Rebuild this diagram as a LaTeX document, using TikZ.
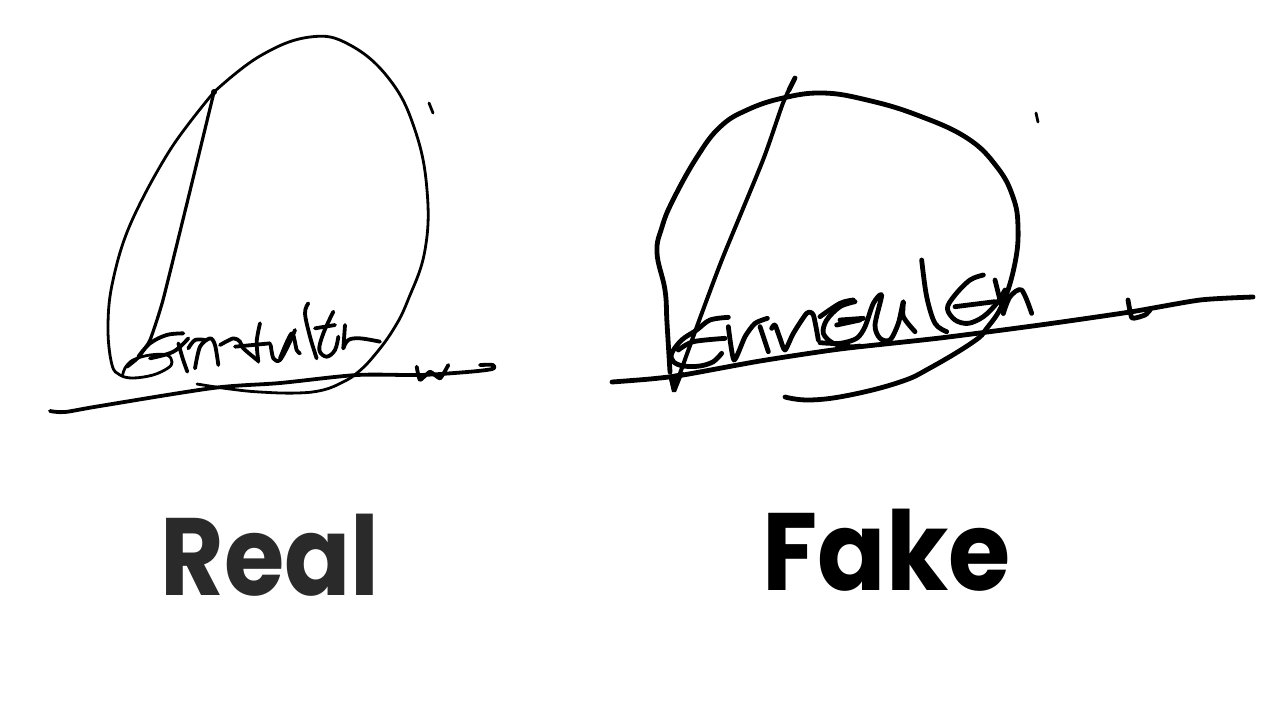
\documentclass[tikz,border=0pt]{standalone}
\usepackage{fontspec}
\setmainfont{Poppins}
\tikzset{
 ink/.style={line width=1.4pt,line cap=round,line join=round,black},
 inkl/.style={line width=1.9pt,line cap=round,line join=round,black},
 inkb/.style={line width=2.4pt,line cap=round,line join=round,black},
 lab/.style={font=\fontsize{55}{60}\selectfont\bfseries,inner sep=0pt,anchor=base west},
}
\begin{document}
\begin{tikzpicture}[x=0.5pt,y=-0.5pt]
\useasboundingbox (0,0) rectangle (1280,720);
\fill[white] (0,0) rectangle (1280,720);
% Real oval
\draw[ink] plot[smooth,tension=0.7] coordinates {(214,92)(260,56)(310,37)(350,45)(390,80)(415,130)(427,190)(425,250)(408,300)(393,330)(373,357)(357,373)(343,382)(323,390)(297,393)(260,392)(230,389)(197,384)};
\draw[ink] plot[smooth,tension=0.6] coordinates {(214,92)(170,150)(130,225)(112,285)(108,330)(112,365)(120,375)(133,378)(153,375)(168,368)(172,362)(167,355)(150,355)(133,360)(125,368)(123,374)};
\draw[ink,line width=1.6pt] plot[smooth,tension=0.3] coordinates {(214,92)(189,195)(163,300)(150,340)(138,358)(127,367)};
\fill (214,92) circle (3);
\begin{scope}[shift={(110,305)},x=0.16667pt,y=-0.16667pt]
\draw[inkl] plot[smooth,tension=0.6] coordinates {(85,155)(120,115)(170,90)(220,85)};
\draw[inkl] plot[smooth,tension=0.6] coordinates {(120,160)(190,140)(235,100)};
\draw[inkl] plot[smooth,tension=0.5] coordinates {(205,115)(218,160)(232,200)};
\draw[inkl] plot[smooth,tension=0.6] coordinates {(235,130)(255,105)(285,105)};
\draw[inkl] plot[smooth,tension=0.5] coordinates {(255,190)(270,125)(300,100)(315,120)(325,180)};
\draw[inkl] plot[smooth,tension=0.5] coordinates {(330,120)(370,100)(390,110)(400,130)(445,168)};
\draw[inkl] plot[smooth,tension=0.5] coordinates {(450,55)(440,110)(445,170)};
\draw[inkl] (375,125) -- (480,115);
\draw[inkl] plot[smooth,tension=0.5] coordinates {(482,120)(490,160)(510,165)(540,110)(555,75)};
\end{scope}
\begin{scope}[shift={(280,300)},x=0.16667pt,y=-0.16667pt]
\draw[inkl] plot[smooth,tension=0.5] coordinates {(0,175)(35,100)(50,150)(60,160)};
\draw[inkl] plot[smooth,tension=0.6] coordinates {(85,10)(75,40)(90,110)(110,175)};
\draw[inkl] plot[smooth,tension=0.6] coordinates {(160,35)(130,100)(118,150)(140,170)(165,150)(175,110)};
\draw[inkl] (105,85) -- (165,75);
\draw[inkl] (195,75) -- (190,145);
\draw[inkl] plot[smooth,tension=0.6] coordinates {(190,145)(205,120)(240,115)(300,125)};
\draw[inkl] plot[smooth,tension=0.3] coordinates {(410,200)(420,240)(450,215)(480,235)(505,195)};
\end{scope}
\draw[inkl] plot[smooth,tension=0.5] coordinates {(50,411)(65,412)(100,406)(213,388)(280,383)(357,375)(420,375)(467,372)(492,369)(493,365)(480,365)};
\draw[ink] (429,103) -- (433,113);
% Fake
\draw[inkb] plot[smooth,tension=0.7] coordinates {(670,372)(667,323)(665,290)(657,253)(662,227)(673,200)(697,157)(720,127)(747,110)(783,98)(823,93)(867,100)(917,115)(967,138)(997,167)(1013,197)(1018,227)(1015,263)(1003,303)(987,328)(973,342)(930,368)(900,382)(850,395)(810,400)(785,397)};
\draw[line width=2pt,line cap=round,line join=round] plot[smooth,tension=0.4] coordinates {(795,78)(783,103)(763,160)(723,257)(703,310)(692,340)(683,365)(674,390)};
\fill (668,375) -- (684,372) -- (676,392) -- (672,392) -- cycle;
\draw[line width=2.4pt,line cap=round] (795,78) -- (789,90);
\draw[inkb] plot[smooth,tension=0.4] coordinates {(612,382)(650,379)(683,375)(760,361)(840,349)(940,338)(1040,325)(1130,312)(1200,300)(1253,297)};
\draw[inkb] plot[smooth,tension=0.3] coordinates {(1128,300)(1132,318)(1145,315)(1150,310)};
\begin{scope}[shift={(660,290)},x=0.16667pt,y=-0.16667pt]
\draw[inkb] plot[smooth,tension=0.55] coordinates {(205,82)(150,90)(110,120)(65,150)(35,190)(40,215)(70,228)(120,228)(160,215)(185,190)};
\draw[inkb] plot[smooth,tension=0.5] coordinates {(55,180)(100,155)(195,145)};
\draw[inkb] plot[smooth,tension=0.4] coordinates {(205,110)(222,210)(255,140)(285,100)(322,85)};
\draw[inkb] plot[smooth,tension=0.4] coordinates {(300,110)(310,140)(325,185)};
\draw[inkb] plot[smooth,tension=0.4] coordinates {(335,115)(345,105)(360,145)(375,180)(400,130)(440,70)(460,75)(475,150)};
\draw[inkb] plot[smooth,tension=0.55] coordinates {(585,35)(540,50)(500,90)(490,130)(520,160)(570,170)(600,168)};
\draw[inkb] (530,105) -- (600,90);
\end{scope}
\begin{scope}[shift={(840,260)},x=0.16667pt,y=-0.16667pt]
\draw[inkb] plot[smooth,tension=0.55] coordinates {(-60,170)(0,130)(40,120)};
\draw[inkb] (0,180) -- (70,175);
\draw[inkb] plot[smooth,tension=0.5] coordinates {(-60,248)(0,250)(50,235)(75,200)(100,130)(125,105)(105,195)(120,235)(150,240)(175,190)(190,125)(190,170)(225,215)};
\draw[inkb] plot[smooth,tension=0.55] coordinates {(245,0)(260,110)(285,190)(320,215)};
\draw[inkb] plot[smooth,tension=0.55] coordinates {(430,45)(390,60)(345,105)(322,145)(345,180)(385,190)(430,170)(470,130)(495,90)};
\draw[inkb] (345,140) -- (465,125);
\draw[inkb] plot[smooth,tension=0.4] coordinates {(465,60)(490,160)};
\draw[inkb] plot[smooth,tension=0.5] coordinates {(490,160)(510,110)(545,90)(575,160)};
\end{scope}
\draw[ink] (1036,113) -- (1038,122);
\node[lab,text={rgb,255:red,42;green,42;blue,42},xscale=0.888] (real) at (160,595) {Real};
\node[lab,text=black,xscale=0.917] (fake) at (762,590) {Fake};
\end{tikzpicture}
\end{document}
